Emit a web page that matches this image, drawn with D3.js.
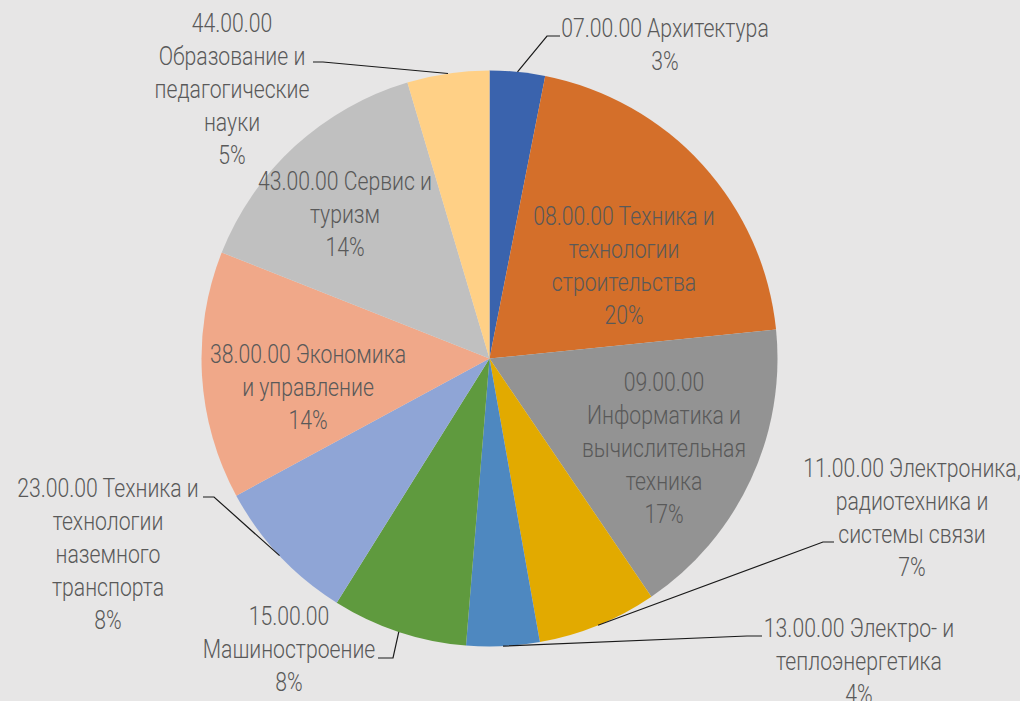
<!DOCTYPE html>
<html>
<head>
<meta charset="utf-8">
<script src="https://cdn.jsdelivr.net/npm/d3@7"></script>
<style>
  html, body { margin: 0; padding: 0; background: #E7E6E6; }
  svg { display: block; }
</style>
</head>
<body>
<svg id="chart"></svg>
<script>
// categories as they are wrapped in the original labels
const categories = [
  '07.00.00 Архитектура',
  '08.00.00 Техника и\nтехнологии\nстроительства',
  '09.00.00\nИнформатика и\nвычислительная\nтехника',
  '11.00.00 Электроника,\nрадиотехника и\nсистемы связи',
  '13.00.00 Электро- и\nтеплоэнергетика',
  '15.00.00\nМашиностроение',
  '23.00.00 Техника и\nтехнологии\nназемного\nтранспорта',
  '38.00.00 Экономика\nи управление',
  '43.00.00 Сервис и\nтуризм',
  '44.00.00\nОбразование и\nпедагогические\nнауки'
]
const shares = [3.1, 20.3, 17.1, 6.7, 4.1, 7.6, 8.2, 13.9, 14.4, 4.6]
const colors = ['#3A63AD', '#D46F2A', '#939393', '#E2AA00', '#4E88C0',
  '#5F9A3E', '#8FA5D6', '#F0A889', '#C0C0C0', '#FFD086']

// label layout: x centre, first baseline, optional leader (elbow + end)
const labelPos = [
  { x: 665, y: 37, elbow: [547, 36], end: [560, 36] },
  { x: 624, y: 225 },
  { x: 664, y: 391 },
  { x: 912, y: 477, elbow: [823, 542], end: [834, 542] },
  { x: 859, y: 637, elbow: [747, 636], end: [762, 636] },
  { x: 289, y: 625, elbow: [393, 658], end: [378, 658] },
  { x: 108, y: 497, elbow: [214, 497], end: [203, 497] },
  { x: 308, y: 363 },
  { x: 345, y: 190 },
  { x: 232, y: 32, elbow: [323, 62], end: [313, 62] }
]

const width = 1020
const height = 701
const cx = 489.5
const cy = 358.5
const radius = 288
const lineGap = 33

const svg = d3.select('#chart').attr('width', width).attr('height', height)

const total = d3.sum(shares)
const data = shares.map((v, i) => ({ name: categories[i], value: v, color: colors[i], pos: labelPos[i] }))

const pie = d3.pie().sort(null).value((d) => d.value)
const arcs = pie(data)
const arc = d3.arc().innerRadius(0).outerRadius(radius)

const body = svg.append('g').attr('transform', `translate(${cx},${cy})`)

body.selectAll('path')
  .data(arcs)
  .enter()
  .append('path')
  .attr('d', arc)
  .attr('fill', (d) => d.data.color)

// leader lines
const edgePoint = (d) => {
  const a = (d.startAngle + d.endAngle) / 2
  return [cx + radius * Math.sin(a), cy - radius * Math.cos(a)]
}

svg.append('g')
  .selectAll('polyline')
  .data(arcs.filter((d) => d.data.pos.elbow))
  .enter()
  .append('polyline')
  .attr('points', (d) => [edgePoint(d), d.data.pos.elbow, d.data.pos.end].map((p) => p.join(',')).join(' '))
  .attr('fill', 'none')
  .attr('stroke', '#1a1a1a')
  .attr('stroke-width', 1.2)

// labels
const labels = svg.append('g')
  .selectAll('text')
  .data(arcs)
  .enter()
  .append('text')
  .attr('transform', (d) => `translate(${d.data.pos.x},${d.data.pos.y}) scale(0.8,1)`)
  .attr('text-anchor', 'middle')
  .style('font-family', 'Roboto, sans-serif')
  .style('font-weight', 300)
  .style('font-size', '26.5px')
  .attr('fill', '#595959')

labels.each(function (d) {
  const lines = d.data.name.split('\n')
  lines.push(Math.round(d.data.value / total * 100) + '%')
  d3.select(this)
    .selectAll('tspan')
    .data(lines)
    .enter()
    .append('tspan')
    .attr('x', 0)
    .attr('y', (l, i) => i * lineGap)
    .text((l) => l)
})
</script>
</body>
</html>
